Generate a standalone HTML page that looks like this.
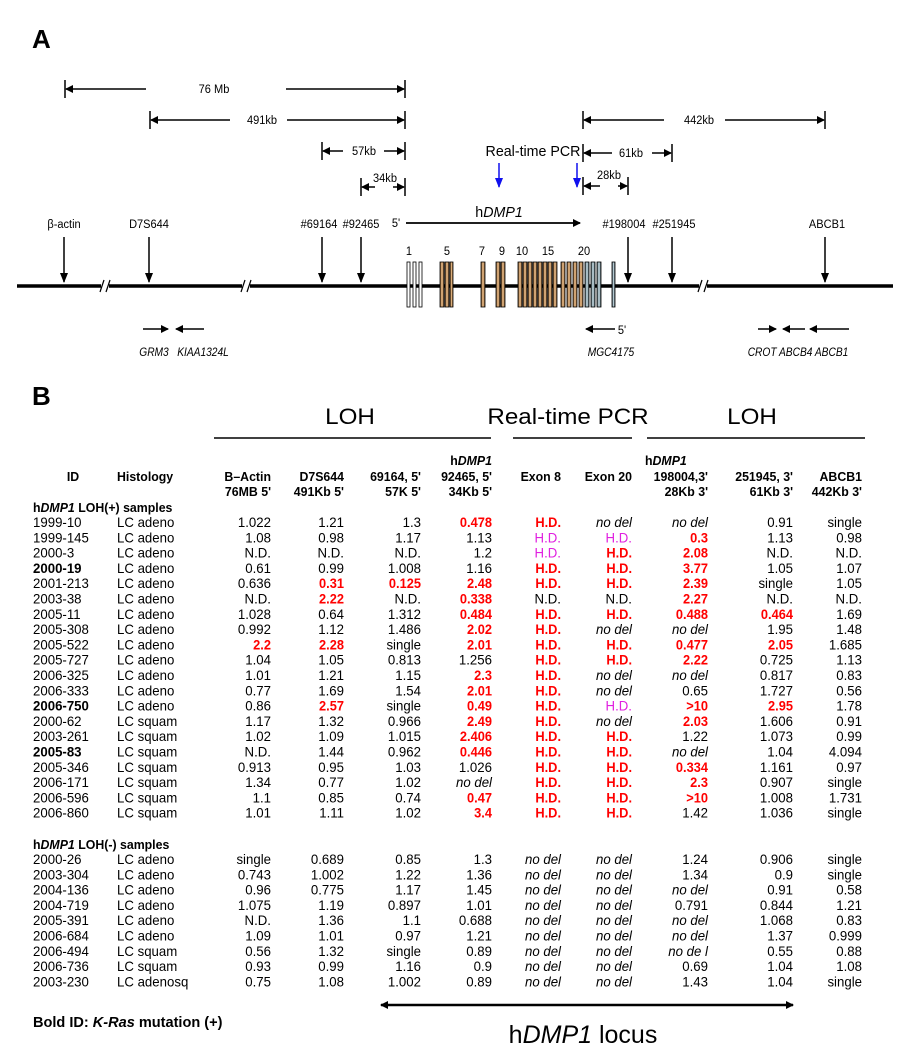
<!DOCTYPE html>
<html><head><meta charset="utf-8"><style>
html,body{margin:0;padding:0;background:#fff;}
svg{display:block;font-family:"Liberation Sans",Arial,sans-serif;}
</style></head><body>
<svg id="fig" width="909" height="1050" viewBox="0 0 909 1050" xmlns="http://www.w3.org/2000/svg">
<defs>
<marker id="ah" markerWidth="8" markerHeight="8" refX="7" refY="4" orient="auto-start-reverse" markerUnits="userSpaceOnUse"><path d="M0,0 L8,4 L0,8 z" fill="#000"/></marker>
<marker id="ahb" markerWidth="8" markerHeight="10" refX="4" refY="9" orient="0" markerUnits="userSpaceOnUse"><path d="M0,0 L8,0 L4,10 z" fill="#1010ee"/></marker>
<marker id="ahd" markerWidth="8" markerHeight="10" refX="4" refY="9" orient="0" markerUnits="userSpaceOnUse"><path d="M0,0 L8,0 L4,10 z" fill="#000"/></marker>
<linearGradient id="og" x1="0" x2="1"><stop offset="0" stop-color="#5a3a1a"/><stop offset="0.5" stop-color="#f6c58e"/><stop offset="1" stop-color="#5a3a1a"/></linearGradient>
<linearGradient id="bg" x1="0" x2="1"><stop offset="0" stop-color="#304048"/><stop offset="0.5" stop-color="#cfe6ee"/><stop offset="1" stop-color="#304048"/></linearGradient>
</defs>
<g id="A"></g>
<g id="B"></g>
</svg>
<script>
const ids1=["1999-10","1999-145","2000-3","2000-19","2001-213","2003-38","2005-11","2005-308","2005-522","2005-727","2006-325","2006-333","2006-750","2000-62","2003-261","2005-83","2005-346","2006-171","2006-596","2006-860"];
const bold1=["2000-19","2006-750","2005-83"];
const hist1=["LC adeno","LC adeno","LC adeno","LC adeno","LC adeno","LC adeno","LC adeno","LC adeno","LC adeno","LC adeno","LC adeno","LC adeno","LC adeno","LC squam","LC squam","LC squam","LC squam","LC squam","LC squam","LC squam"];
const vals1=[
["1.022","1.21","1.3","!0.478","!H.D.","no del","no del","0.91","single"],
["1.08","0.98","1.17","1.13","%H.D.","%H.D.","!0.3","1.13","0.98"],
["N.D.","N.D.","N.D.","1.2","%H.D.","!H.D.","!2.08","N.D.","N.D."],
["0.61","0.99","1.008","1.16","!H.D.","!H.D.","!3.77","1.05","1.07"],
["0.636","!0.31","!0.125","!2.48","!H.D.","!H.D.","!2.39","single","1.05"],
["N.D.","!2.22","N.D.","!0.338","N.D.","N.D.","!2.27","N.D.","N.D."],
["1.028","0.64","1.312","!0.484","!H.D.","!H.D.","!0.488","!0.464","1.69"],
["0.992","1.12","1.486","!2.02","!H.D.","no del","no del","1.95","1.48"],
["!2.2","!2.28","single","!2.01","!H.D.","!H.D.","!0.477","!2.05","1.685"],
["1.04","1.05","0.813","1.256","!H.D.","!H.D.","!2.22","0.725","1.13"],
["1.01","1.21","1.15","!2.3","!H.D.","no del","no del","0.817","0.83"],
["0.77","1.69","1.54","!2.01","!H.D.","no del","0.65","1.727","0.56"],
["0.86","!2.57","single","!0.49","!H.D.","%H.D.","!>10","!2.95","1.78"],
["1.17","1.32","0.966","!2.49","!H.D.","no del","!2.03","1.606","0.91"],
["1.02","1.09","1.015","!2.406","!H.D.","!H.D.","1.22","1.073","0.99"],
["N.D.","1.44","0.962","!0.446","!H.D.","!H.D.","no del","1.04","4.094"],
["0.913","0.95","1.03","1.026","!H.D.","!H.D.","!0.334","1.161","0.97"],
["1.34","0.77","1.02","no del","!H.D.","!H.D.","!2.3","0.907","single"],
["1.1","0.85","0.74","!0.47","!H.D.","!H.D.","!>10","1.008","1.731"],
["1.01","1.11","1.02","!3.4","!H.D.","!H.D.","1.42","1.036","single"]];
const ids2=["2000-26","2003-304","2004-136","2004-719","2005-391","2006-684","2006-494","2006-736","2003-230"];
const hist2=["LC adeno","LC adeno","LC adeno","LC adeno","LC adeno","LC adeno","LC squam","LC squam","LC adenosq"];
const vals2=[
["single","0.689","0.85","1.3","no del","no del","1.24","0.906","single"],
["0.743","1.002","1.22","1.36","no del","no del","1.34","0.9","single"],
["0.96","0.775","1.17","1.45","no del","no del","no del","0.91","0.58"],
["1.075","1.19","0.897","1.01","no del","no del","0.791","0.844","1.21"],
["N.D.","1.36","1.1","0.688","no del","no del","no del","1.068","0.83"],
["1.09","1.01","0.97","1.21","no del","no del","no del","1.37","0.999"],
["0.56","1.32","single","0.89","no del","no del","no de l","0.55","0.88"],
["0.93","0.99","1.16","0.9","no del","no del","0.69","1.04","1.08"],
["0.75","1.08","1.002","0.89","no del","no del","1.43","1.04","single"]];

const NS="http://www.w3.org/2000/svg";
const A=document.getElementById('A'), B=document.getElementById('B');
const SX=1.08, TS=13.5, AS=12, ASX=0.92;
function el(tag,par,attrs){const e=document.createElementNS(NS,tag);for(const k in attrs)e.setAttribute(k,attrs[k]);par.appendChild(e);return e;}
function txt(par,x,y,s,size,anchor,opt,name){
  opt=opt||{};
  const t=el('text',par,{x:0,y:0,'font-size':size,'text-anchor':anchor||'start',fill:opt.fill||'#000',transform:`translate(${x},${y}) scale(${opt.sx||SX},1)`});
  if(opt.bold)t.setAttribute('font-weight','bold');
  if(opt.italic)t.setAttribute('font-style','italic');
  t.textContent=s;
  
  
  return t;
}
function line(par,x1,y1,x2,y2,w,opt,name){
  opt=opt||{};
  const l=el('line',par,{x1,y1,x2,y2,stroke:opt.stroke||'#000','stroke-width':w});
  if(opt.ms)l.setAttribute('marker-start',opt.ms);
  if(opt.me)l.setAttribute('marker-end',opt.me);
  
  
  return l;
}
txt(A,32,48,"A",26,'start',{bold:true,sx:1},'panel-a-label');
txt(B,32,405,"B",26,'start',{bold:true,sx:1},'panel-b-label');

function span(x1,x2,y,label,tx,g1,g2,ly,name){
  line(A,x1,y-9,x1,y+9,1.5,{},name+'-tick-left');
  line(A,x2,y-9,x2,y+9,1.5,{},name+'-tick-right');
  line(A,x1+1,y,g1,y,1.5,{ms:'url(#ah)'},name+'-arrow-left');
  line(A,g2,y,x2-1,y,1.5,{me:'url(#ah)'},name+'-arrow-right');
  txt(A,tx,ly||y+4,label,AS,'middle',{sx:ASX},name+'-label');
}
span(65,405,89,"76 Mb",214,146,286,null,'span-76mb');
span(150,405,120,"491kb",262,230,287,null,'span-491kb');
span(583,825,120,"442kb",699,664,725,null,'span-442kb');
span(322,405,151,"57kb",364,343,384,null,'span-57kb');
span(583,672,153,"61kb",631,612,652,null,'span-61kb');
span(361,405,187,"34kb",385,375,393,182,'span-34kb');
span(583,628,186,"28kb",609,600,618,179,'span-28kb');

txt(A,533,156,"Real-time PCR",15,'middle',{sx:0.95},'real-time-pcr-label');
line(A,499,163,499,187,1.5,{stroke:'#1010ee',me:'url(#ahb)'},'pcr-arrow-exon8');
line(A,577,163,577,187,1.5,{stroke:'#1010ee',me:'url(#ahb)'},'pcr-arrow-exon20');

const hl=txt(A,499,217,"",15,'middle',{sx:0.95},'hdmp1-gene-label');
hl.innerHTML='h<tspan font-style="italic">DMP1</tspan>';
txt(A,396,227,"5'",12,'middle',{sx:ASX},'five-prime-label');
line(A,406,223,580,223,1.8,{me:'url(#ah)'},'gene-direction-arrow');

const markers=[["β-actin",64,64],["D7S644",149,149],["#69164",319,322],["#92465",361,361],["#198004",624,628],["#251945",674,672],["ABCB1",827,825]];
markers.forEach(m=>{
  txt(A,m[1],228,m[0],AS,'middle',{sx:ASX},'marker-label');
  line(A,m[2],237,m[2],282,1.5,{me:'url(#ahd)'},'marker-arrow');
});
line(A,17,286,893,286,3.5,{},'chromosome-line');
[105,246,703].forEach(x=>{
  const b=el('rect',A,{x:x-4,y:280,width:8,height:12,fill:'#fff'});
  
  
  line(A,x-5,292,x-1,280,1.2,{},'break-mark');
  line(A,x+1,292,x+5,280,1.2,{},'break-mark');
});
const exons=[[407,3,'#fff'],[413,3,'#fff'],[419,3,'#fff'],[440,4,'url(#og)'],[445,4,'url(#og)'],[450,3,'url(#og)'],[481,4,'url(#og)'],[496,4,'url(#og)'],[501,4,'url(#og)'],
[518,4,'url(#og)'],[523,4,'url(#og)'],[528,4,'url(#og)'],[533,4,'url(#og)'],[538,4,'url(#og)'],[543,4,'url(#og)'],[548,4,'url(#og)'],[553,4,'url(#og)'],
[561,4,'url(#og)'],[567,4,'url(#og)'],[573,4,'url(#og)'],[579,4,'url(#og)'],[585,4,'url(#bg)'],[591,4,'url(#bg)'],[597,4,'url(#bg)'],[612,3,'url(#bg)']];
exons.forEach(e=>{
  const r=el('rect',A,{x:e[0],y:262,width:e[1],height:45,fill:e[2],stroke:'#000','stroke-width':0.8});
  
  
});
[["1",409],["5",447],["7",482],["9",502],["10",522],["15",548],["20",584]].forEach(n=>txt(A,n[1],255,n[0],AS,'middle',{sx:ASX},'exon-number'));
line(A,143,329,168,329,1.6,{me:'url(#ah)'},'grm3-arrow');
line(A,204,329,176,329,1.6,{me:'url(#ah)'},'kiaa1324l-arrow');
line(A,615,329,586,329,1.6,{me:'url(#ah)'},'mgc4175-arrow');
txt(A,622,334,"5'",12,'middle',{sx:ASX},'mgc4175-five-prime');
line(A,758,329,776,329,1.6,{me:'url(#ah)'},'crot-arrow');
line(A,805,329,783,329,1.6,{me:'url(#ah)'},'abcb4-arrow');
line(A,849,329,810,329,1.6,{me:'url(#ah)'},'abcb1-arrow');
txt(A,154,356,"GRM3",AS,'middle',{italic:true,sx:0.85},'grm3-label');
txt(A,203,356,"KIAA1324L",AS,'middle',{italic:true,sx:0.85},'kiaa1324l-label');
txt(A,611,356,"MGC4175",AS,'middle',{italic:true,sx:0.85},'mgc4175-label');
txt(A,798,356,"CROT ABCB4 ABCB1",AS,'middle',{italic:true,sx:0.85},'crot-abcb4-abcb1-label');

txt(B,350,424,"LOH",22,'middle',{sx:1.1},'loh-left-title');
txt(B,568,424,"Real-time PCR",22,'middle',{sx:1.1},'real-time-pcr-title');
txt(B,752,424,"LOH",22,'middle',{sx:1.1},'loh-right-title');
line(B,214,438,491,438,1.6,{},'loh-left-rule');
line(B,513,438,632,438,1.6,{},'pcr-rule');
line(B,647,438,865,438,1.6,{},'loh-right-rule');
const colR=[271,344,421,492,561,632,708,793,862];
const hdr2=["B–Actin","D7S644","69164, 5'","92465, 5'","Exon 8","Exon 20","198004,3'","251945, 3'","ABCB1"];
const hdr3=["76MB 5'","491Kb 5'","57K 5'","34Kb 5'","","","28Kb 3'","61Kb 3'","442Kb 3'"];
const HS=13, HSX=0.95;
function hd(x,y,anchor){const t=txt(B,x,y,"",HS,anchor,{bold:true,sx:HSX},'hdmp1-column-header');t.innerHTML='h<tspan font-style="italic">DMP1</tspan>';}
hd(492,465,'end');hd(645,465,'start');
txt(B,73,481,"ID",HS,'middle',{bold:true,sx:HSX},'id-header');
txt(B,117,481,"Histology",HS,'start',{bold:true,sx:HSX},'histology-header');
hdr2.forEach((h,i)=>txt(B,colR[i],481,h,HS,'end',{bold:true,sx:HSX},'column-header'));
hdr3.forEach((h,i)=>{if(h)txt(B,colR[i],496,h,HS,'end',{bold:true,sx:HSX},'column-subheader');});
const g1=txt(B,33,512,"",HS,'start',{bold:true,sx:HSX},'loh-positive-group-label');g1.innerHTML='h<tspan font-style="italic">DMP1</tspan>  LOH(+) samples';
function cell(x,y,v,name){
  let opt={sx:0.98};
  if(v[0]==='!'){opt={bold:true,fill:'#f00',sx:0.95};v=v.slice(1);}
  else if(v[0]==='%'){opt={fill:'#e020e0',sx:0.98};v=v.slice(1);}
  if(v.startsWith('no de'))opt.italic=true;
  txt(B,x,y,v,TS,'end',opt,name);
}
const P=15.3;
ids1.forEach((id,r)=>{
  const y=527+r*P;
  txt(B,33,y,id,TS,'start',{bold:bold1.includes(id),sx:0.98},'sample-id');
  txt(B,117,y,hist1[r],TS,'start',{sx:0.98},'histology');
  vals1[r].forEach((v,c)=>cell(colR[c],y,v,'value-cell'));
});
const g2=txt(B,33,849,"",HS,'start',{bold:true,sx:HSX},'loh-negative-group-label');g2.innerHTML='h<tspan font-style="italic">DMP1</tspan>  LOH(-) samples';
ids2.forEach((id,r)=>{
  const y=864+r*P;
  txt(B,33,y,id,TS,'start',{sx:0.98},'sample-id');
  txt(B,117,y,hist2[r],TS,'start',{sx:0.98},'histology');
  vals2[r].forEach((v,c)=>cell(colR[c],y,v,'value-cell'));
});
const fn=txt(B,33,1027,"",15,'start',{sx:0.97,bold:true},'footnote');fn.innerHTML='Bold ID: <tspan font-style="italic">K-Ras</tspan> mutation (+)';
line(B,381,1005,793,1005,2.5,{ms:'url(#ah)',me:'url(#ah)'},'locus-double-arrow');
const lc=txt(B,583,1043,"",25,'middle',{sx:1.0},'hdmp1-locus-label');lc.innerHTML='h<tspan font-style="italic">DMP1</tspan> locus';
</script>
</body></html>
